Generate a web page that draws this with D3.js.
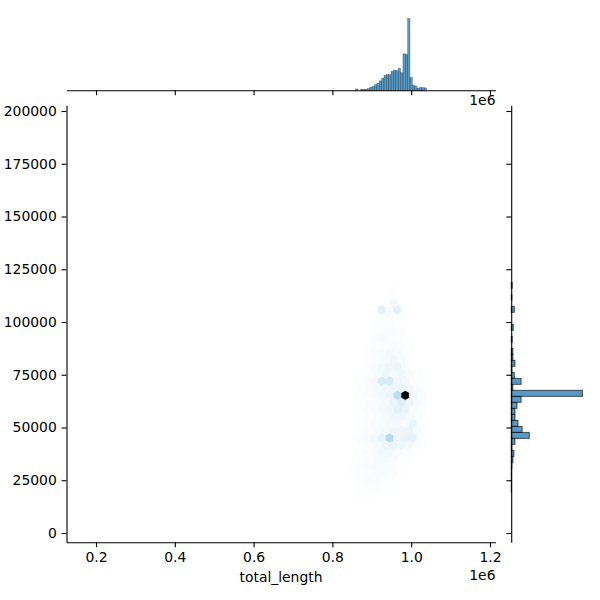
<!DOCTYPE html>
<html><head><meta charset="utf-8">
<script src="https://cdn.jsdelivr.net/npm/d3@7"></script>
<style>body{margin:0;background:#fff}svg{display:block}text{font-family:"DejaVu Sans",sans-serif}</style>
</head><body>
<script>
// ---------- data ----------
const xTicks = [200000, 400000, 600000, 800000, 1000000, 1200000];
const yTicks = [0, 25000, 50000, 75000, 100000, 125000, 150000, 175000, 200000];
const xLabel = "total_length";
// top marginal histogram (total_length)
const topBinStart = 859000, topBinWidth = 6000;
const topCounts = [4,0,3,3,3,5,9,12,17,21,28,36,44,46,46,56,60,58,65,52,108,106,212,38,15,12,6,8,8,7];
// right marginal histogram (y variable)
const rightBinStart = 19276, rightBinWidth = 2844;
const rightCounts = [1,1,1,1,2,5,8,2,11,53,32,20,11,11,17,29,209,5,29,9,2,11,5,5,0,3,0,6,0,0,9,0,2,0,3];
// hexbin grid
const hexXMin = 173300, hexYMin = 4686, hexDx = 19800, hexDy = 6740;
const hexFirstCol = 34;
// each row: [rowIndex, counts for columns 34..45]
const hexRows = [
 [3, [0,1,0,0,0,0,0,0,0,0,0,0]],
 [4, [1,2,2,2,1,0,0,0,0,0,0,0]],
 [5, [1,2,3,3,2,1,0,0,0,0,0,0]],
 [6, [2,3,4,4,3,2,0,0,0,0,0,0]],
 [7, [2,3,4,5,5,4,2,0,0,0,0,0]],
 [8, [2,3,5,6,6,5,2,0,0,0,0,0]],
 [9, [1,3,4,6,7,6,3,2,0,0,0,0]],
 [10,[0,2,4,6,8,8,6,4,2,0,0,0]],
 [11,[0,2,5,7,12,14,12,8,4,2,0,0]],
 [12,[0,3,5,8,14,45,12,14,16,3,0,0]],
 [13,[0,3,4,6,8,10,12,14,6,2,0,0]],
 [14,[0,2,3,5,6,8,8,6,14,2,0,0]],
 [15,[0,2,3,5,7,9,10,8,5,2,0,0]],
 [16,[0,2,4,6,8,10,18,14,6,3,0,0]],
 [17,[0,2,4,6,8,14,20,12,6,3,0,0]],
 [18,[0,2,4,6,8,12,40,260,8,5,2,0]],
 [19,[0,3,5,8,10,12,12,10,5,3,0,0]],
 [20,[0,3,5,8,25,25,10,8,4,2,0,0]],
 [21,[0,2,4,6,10,8,9,6,3,0,0,0]],
 [22,[0,0,3,5,8,12,14,5,2,0,0,0]],
 [23,[0,0,3,4,6,10,6,3,1,0,0,0]],
 [24,[0,0,2,4,5,8,5,3,0,0,0,0]],
 [25,[0,0,2,3,4,5,4,2,0,0,0,0]],
 [26,[0,0,1,3,6,4,3,2,0,0,0,0]],
 [27,[0,0,0,3,4,5,3,0,0,0,0,0]],
 [28,[0,0,0,2,3,3,2,0,0,0,0,0]],
 [29,[0,0,0,2,3,4,2,0,0,0,0,0]],
 [30,[0,0,0,1,18,6,18,1,0,0,0,0]],
 [31,[0,0,0,0,2,8,2,0,0,0,0,0]],
 [32,[0,0,0,0,1,3,1,0,0,0,0,0]],
 [33,[0,0,0,0,0,2,0,0,0,0,0,0]]
];
const baseColor = "#1f77b4";

// ---------- layout ----------
const W = 600, H = 600;
const main = {l: 66.5, r: 495.5, t: 105.3, b: 542.3};
const margTop = {t: 15, b: 90.3};
const margRight = {l: 511.2, r: 586};
const fs = 13.9, tickLen = 4.86, tickPad = 4.86, lw = 1.1;

const svg = d3.select("body").append("svg").attr("width", W).attr("height", H);

const x = d3.scaleLinear().domain([125100, 1214000]).range([main.l, main.r]);
const y = d3.scaleLinear().domain([-4400, 202700]).range([main.b, main.t]);

// ---------- hexbin colour map (seaborn style: l from 1 to 0) ----------
const hsl = d3.hsl(baseColor);
const nStops = 12;
const stops = d3.range(nStops).map(k => {
  const c = d3.hsl(hsl.h, hsl.s, 1 - k / (nStops - 1));
  return c.formatRgb();
});
const allCounts = hexRows.flatMap(r => r[1]).filter(c => c > 0);
const cMin = d3.min(allCounts), cMax = d3.max(allCounts);
const color = d3.scaleLinear()
  .domain(d3.range(nStops).map(k => cMin + (cMax - cMin) * k / (nStops - 1)))
  .range(stops).interpolate(d3.interpolateRgb);

const hexVerts = [[0.5,-0.5],[0.5,0.5],[0,1],[-0.5,0.5],[-0.5,-0.5],[0,-1]];
const cells = [];
hexRows.forEach(([r, counts]) => {
  counts.forEach((c, k) => {
    if (c > 0) {
      const i = hexFirstCol + k;
      cells.push({cx: hexXMin + (i + (r % 2) * 0.5) * hexDx, cy: hexYMin + r * hexDy / 2, c});
    }
  });
});
svg.append("g").selectAll("path").data(cells).join("path")
  .attr("d", d => "M" + hexVerts.map(([a, b]) => [x(d.cx + a * hexDx), y(d.cy + b * hexDy / 3)].join(",")).join("L") + "Z")
  .attr("fill", d => color(d.c))
  .attr("stroke", d => color(d.c))
  .attr("stroke-width", 0.3);

// ---------- main axes ----------
const gx = svg.append("g").attr("transform", `translate(0,${main.b})`)
  .call(d3.axisBottom(x).tickValues(xTicks).tickFormat(d => (d / 1e6).toFixed(1))
    .tickSize(tickLen).tickSizeOuter(0).tickPadding(tickPad));
const gy = svg.append("g").attr("transform", `translate(${main.l},0)`)
  .call(d3.axisLeft(y).tickValues(yTicks).tickFormat(d3.format("d"))
    .tickSize(tickLen).tickSizeOuter(0).tickPadding(tickPad));
[gx, gy].forEach(g => {
  g.selectAll("path,line").attr("stroke", "#000").attr("stroke-width", lw);
  g.selectAll("text").attr("font-size", fs).attr("fill", "#000").attr("font-family", "DejaVu Sans");
});
gx.selectAll("text").attr("dy", "0.71em");

svg.append("text").attr("x", (main.l + main.r) / 2).attr("y", 581.5)
  .attr("text-anchor", "middle").attr("font-size", fs).text(xLabel);
svg.append("text").attr("x", main.r).attr("y", 580)
  .attr("text-anchor", "end").attr("font-size", fs).text("1e6");

// ---------- top marginal ----------
const yTop = d3.scaleLinear().domain([0, d3.max(topCounts) * 1.05]).range([margTop.b, margTop.t]);
svg.append("g").selectAll("rect").data(topCounts.map((c, k) => ({c, k}))).join("rect")
  .attr("x", d => x(topBinStart + d.k * topBinWidth))
  .attr("width", d => x(topBinStart + (d.k + 1) * topBinWidth) - x(topBinStart + d.k * topBinWidth))
  .attr("y", d => yTop(d.c))
  .attr("height", d => yTop(0) - yTop(d.c))
  .attr("fill", baseColor).attr("fill-opacity", 0.75)
  .attr("stroke", "#000").attr("stroke-opacity", 0.45).attr("stroke-width", 0.5);
const gxm = svg.append("g").attr("transform", `translate(0,${margTop.b})`)
  .call(d3.axisBottom(x).tickValues(xTicks).tickFormat("").tickSize(tickLen).tickSizeOuter(0));
gxm.selectAll("path,line").attr("stroke", "#000").attr("stroke-width", lw);
svg.append("text").attr("x", main.r).attr("y", 105)
  .attr("text-anchor", "end").attr("font-size", fs).text("1e6");

// ---------- right marginal ----------
const xRight = d3.scaleLinear().domain([0, d3.max(rightCounts) * 1.05]).range([margRight.l, margRight.r]);
svg.append("g").selectAll("rect").data(rightCounts.map((c, k) => ({c, k}))).join("rect")
  .attr("y", d => y(rightBinStart + (d.k + 1) * rightBinWidth))
  .attr("height", d => y(rightBinStart + d.k * rightBinWidth) - y(rightBinStart + (d.k + 1) * rightBinWidth))
  .attr("x", xRight(0))
  .attr("width", d => xRight(d.c) - xRight(0))
  .attr("fill", baseColor).attr("fill-opacity", 0.75)
  .attr("stroke", "#000").attr("stroke-opacity", 0.7).attr("stroke-width", 0.9);
const gym = svg.append("g").attr("transform", `translate(${margRight.l},0)`)
  .call(d3.axisLeft(y).tickValues(yTicks).tickFormat("").tickSize(tickLen).tickSizeOuter(0));
gym.selectAll("path,line").attr("stroke", "#000").attr("stroke-width", lw);
</script>
</body></html>
